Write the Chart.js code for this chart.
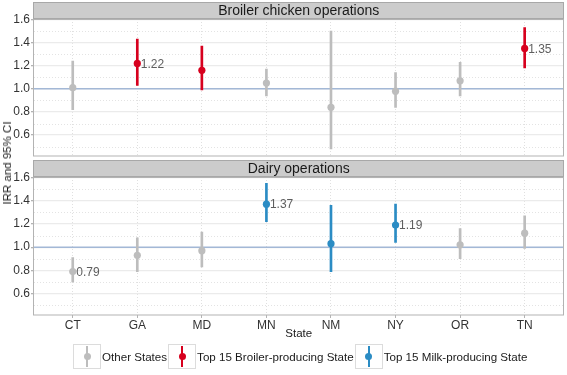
<!DOCTYPE html>
<html>
<head>
<meta charset="utf-8">
<script src="https://cdn.jsdelivr.net/npm/chart.js@4.4.1/dist/chart.umd.min.js"></script>
<style>
  html, body { margin: 0; padding: 0; background: #ffffff; }
  #wrap { position: relative; width: 567px; height: 375px; background: #ffffff; overflow: hidden;
          font-family: "Liberation Sans", Arial, sans-serif; }
  canvas { position: absolute; left: 0; }
  #ytitle { position: absolute; left: 7px; top: 163px; transform: translate(-50%, -50%) rotate(-90deg);
            white-space: nowrap; font-size: 11.5px; color: #1a1a1a; }
  #legend { position: absolute; left: 73px; top: 344px; display: flex; align-items: center;
            font-size: 11.6px; color: #1a1a1a; }
  .key { position: relative; width: 26px; height: 23px; border: 1px solid #dcdcdc; background: #fff; }
  .key .ln { position: absolute; left: 12px; top: 1px; width: 2px; height: 21px; }
  .key .dt { position: absolute; left: 9.5px; top: 8px; width: 7px; height: 7px; border-radius: 50%; }
  .txt { padding: 0 1px 0 1px; white-space: nowrap; }
</style>
</head>
<body>
<div id="wrap">
  <canvas id="c1" width="567" height="160" style="top:0px"></canvas>
  <canvas id="c2" width="567" height="217" style="top:158px"></canvas>
  <div id="ytitle">IRR and 95% CI</div>
  <div id="legend"></div>
</div>
<script>
// ---------- data ----------
const states = ['CT', 'GA', 'MD', 'MN', 'NM', 'NY', 'OR', 'TN'];

const broilerIRR  = [1.01, 1.22, 1.16, 1.05, 0.84, 0.98, 1.07, 1.35];
const broilerLow  = [0.82, 1.03, 0.99, 0.94, 0.48, 0.84, 0.94, 1.18];
const broilerHigh = [1.24, 1.43, 1.37, 1.17, 1.50, 1.14, 1.23, 1.53];
const broilerGroup = ['Other', 'Broiler', 'Broiler', 'Other', 'Other', 'Other', 'Other', 'Broiler'];
const broilerLabels = ['', '1.22', '', '', '', '', '', '1.35'];

const dairyIRR  = [0.79, 0.93, 0.97, 1.37, 1.03, 1.19, 1.02, 1.12];
const dairyLow  = [0.70, 0.79, 0.83, 1.22, 0.79, 1.04, 0.90, 0.99];
const dairyHigh = [0.91, 1.08, 1.13, 1.55, 1.36, 1.37, 1.16, 1.27];
const dairyGroup = ['Other', 'Other', 'Other', 'Milk', 'Milk', 'Milk', 'Other', 'Other'];
const dairyLabels = ['0.79', '', '', '1.37', '', '1.19', '', ''];

const panelTitles = ['Broiler chicken operations', 'Dairy operations'];
const yMajorTicks = [0.6, 0.8, 1.0, 1.2, 1.4, 1.6];
const yMinorTicks = [0.5, 0.7, 0.9, 1.1, 1.3, 1.5];
const yRange = [0.416, 1.604];
const xRange = [0.4, 8.6];
const refValue = 1.0;

const groupNames = ['Other', 'Broiler', 'Milk'];
const groupLegend = ['Other States', 'Top 15 Broiler-producing State', 'Top 15 Milk-producing State'];
const groupColors = { Other: '#bdbdbd', Broiler: '#d7001e', Milk: '#2b8cc4' };

const xTitle = 'State';

// ---------- chart building ----------
const FONT = '"Liberation Sans", Arial, sans-serif';

function panelPlugin(title, labels) {
  return {
    id: 'panel',
    beforeDatasetsDraw(chart) {
      const { ctx, chartArea: a, scales: { y } } = chart;
      ctx.save();
      // minor grid
      ctx.strokeStyle = '#e3e3e3';
      ctx.lineWidth = 1;
      ctx.setLineDash([1, 2]);
      yMinorTicks.forEach(v => {
        const py = Math.round(y.getPixelForValue(v)) + 0.5;
        ctx.beginPath(); ctx.moveTo(a.left, py); ctx.lineTo(a.right, py); ctx.stroke();
      });
      ctx.setLineDash([]);
      // reference line
      const ry = y.getPixelForValue(refValue);
      ctx.strokeStyle = '#a3b8d6';
      ctx.lineWidth = 1.5;
      ctx.beginPath(); ctx.moveTo(a.left, ry); ctx.lineTo(a.right, ry); ctx.stroke();
      ctx.restore();
    },
    afterDatasetsDraw(chart) {
      const { ctx } = chart;
      const meta = chart.getDatasetMeta(0);
      ctx.save();
      ctx.font = '12px ' + FONT;
      ctx.fillStyle = '#5e5e5e';
      ctx.textAlign = 'left';
      ctx.textBaseline = 'middle';
      meta.data.forEach((pt, i) => {
        if (labels[i]) ctx.fillText(labels[i], pt.x + 3.5, pt.y + 1);
      });
      ctx.restore();
    },
    afterDraw(chart) {
      const { ctx, chartArea: a } = chart;
      ctx.save();
      ctx.strokeStyle = '#b3b3b3';
      ctx.lineWidth = 1;
      ctx.strokeRect(Math.round(a.left) - 0.5, Math.round(a.top) + 0.5,
                     Math.round(a.right - a.left) + 1, Math.round(a.bottom - a.top) - 0.5);
      // strip
      const sh = 17;
      const st = Math.round(a.top) - sh;
      ctx.fillStyle = '#cccccc';
      ctx.fillRect(Math.round(a.left) - 1, st, Math.round(a.right - a.left) + 2, sh);
      ctx.strokeStyle = '#a8a8a8';
      ctx.strokeRect(Math.round(a.left) - 0.5, st + 0.5, Math.round(a.right - a.left) + 1, sh - 1);
      ctx.fillStyle = '#1a1a1a';
      ctx.font = '14px ' + FONT;
      ctx.textAlign = 'center';
      ctx.textBaseline = 'middle';
      ctx.fillText(title, (a.left + a.right) / 2, st + sh / 2 + 0.5);
      ctx.restore();
    }
  };
}

function makeChart(canvasId, title, irr, low, high, group, labels, showX) {
  const colors = group.map(g => groupColors[g]);
  return new Chart(document.getElementById(canvasId), {
    type: 'scatter',
    data: {
      datasets: [
        {
          type: 'scatter',
          data: states.map((s, i) => ({ x: i + 1, y: irr[i] })),
          backgroundColor: colors,
          borderWidth: 0,
          pointRadius: 3.6,
          pointHoverRadius: 3.6
        },
        {
          type: 'bar',
          data: states.map((s, i) => ({ x: i + 1, y: [low[i], high[i]] })),
          backgroundColor: colors,
          borderWidth: 0,
          barThickness: 2,
          grouped: false
        }
      ]
    },
    options: {
      responsive: false,
      animation: false,
      devicePixelRatio: 1,
      layout: { padding: { top: 19, right: 2, left: 0, bottom: showX ? 34 : 1 } },
      plugins: { legend: { display: false }, tooltip: { enabled: false } },
      scales: {
        x: {
          type: 'linear',
          min: xRange[0],
          max: xRange[1],
          offset: false,
          afterBuildTicks: s => { s.ticks = states.map((st, i) => ({ value: i + 1 })); },
          afterFit: s => { s.height = showX ? 26 : 0; s.paddingLeft = 0; s.paddingRight = 0; },
          ticks: {
            display: showX,
            callback: (v) => states[Math.round(v) - 1] || '',
            font: { size: 12, family: FONT },
            color: '#333333',
            padding: 0,
            maxRotation: 0,
            autoSkip: false
          },
          grid: {
            offset: false,
            color: '#e0e0e0',
            lineWidth: 1,
            drawTicks: showX,
            tickLength: 3,
            tickColor: '#b3b3b3',
            tickBorderDash: []
          },
          border: { display: false, dash: [1, 2] },
          title: {
            display: showX,
            text: xTitle,
            font: { size: 11.5, family: FONT },
            color: '#1a1a1a',
            padding: { top: 0, bottom: 0 }
          }
        },
        y: {
          type: 'linear',
          min: yRange[0],
          max: yRange[1],
          afterBuildTicks: s => { s.ticks = yMajorTicks.map(v => ({ value: v })); },
          afterFit: s => { s.width = 34; s.paddingTop = 0; s.paddingBottom = 0; },
          ticks: {
            callback: v => v.toFixed(1),
            font: { size: 12, family: FONT },
            color: '#333333',
            padding: 1
          },
          grid: {
            color: '#ebebeb',
            lineWidth: 1.3,
            drawTicks: true,
            tickLength: 3,
            tickColor: '#b3b3b3'
          },
          border: { display: false }
        }
      }
    },
    plugins: [panelPlugin(title, labels)]
  });
}

makeChart('c1', panelTitles[0], broilerIRR, broilerLow, broilerHigh, broilerGroup, broilerLabels, false);
makeChart('c2', panelTitles[1], dairyIRR, dairyLow, dairyHigh, dairyGroup, dairyLabels, true);

// ---------- legend ----------
const legend = document.getElementById('legend');
groupNames.forEach((g, i) => {
  const key = document.createElement('div');
  key.className = 'key';
  const ln = document.createElement('div');
  ln.className = 'ln'; ln.style.background = groupColors[g];
  const dt = document.createElement('div');
  dt.className = 'dt'; dt.style.background = groupColors[g];
  key.appendChild(ln); key.appendChild(dt);
  const txt = document.createElement('div');
  txt.className = 'txt';
  txt.textContent = groupLegend[i];
  legend.appendChild(key);
  legend.appendChild(txt);
});
</script>
</body>
</html>
